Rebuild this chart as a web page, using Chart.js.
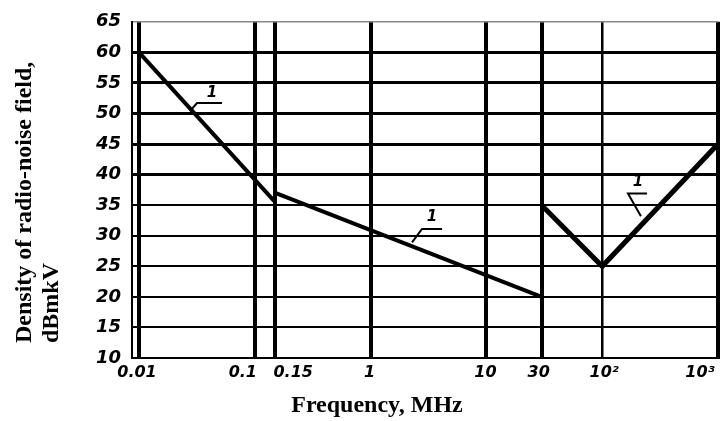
<!DOCTYPE html>
<html lang="en">
<head>
    <meta charset="UTF-8">
    <title>Density of radio-noise field</title>
    <script src="https://cdn.jsdelivr.net/npm/chart.js"></script>
    <style>
        html, body {
            margin: 0;
            padding: 0;
            background: #FFFFFF;
        }
        .chart-container {
            width: 724px;
            height: 421px;
        }
    </style>
</head>
<body>
    <div class="chart-container">
        <canvas id="noiseChart"></canvas>
    </div>

    <script>
        // tick values and labels
        const freqTicks = [0.01, 0.1, 0.15, 1, 10, 30, 100, 1000];
        const freqTickLabels = ['0.01', '0.1', '0.15', '1', '10', '30', '10²', '10³'];
        const levelTicks = [10, 15, 20, 25, 30, 35, 40, 45, 50, 55, 60, 65];

        // curve 1, three pieces (MHz, dBmkV)
        const lowFreq = [0.01, 0.15];
        const lowLevel = [60, 35.5];
        const midFreq = [0.15, 30];
        const midLevel = [37, 20];
        const highFreq = [30, 100, 1000];
        const highLevel = [35, 25, 45];

        function toPoints(xs, ys) {
            return xs.map((x, i) => ({ x: x, y: ys[i] }));
        }

        function curve(xs, ys, width) {
            return {
                data: toPoints(xs, ys),
                showLine: true,
                borderColor: '#000000',
                borderWidth: width,
                pointRadius: 0,
                borderCapStyle: 'butt',
                borderJoinStyle: 'miter'
            };
        }

        // draws the x tick labels, axis titles and the "1" callouts
        const drawingText = {
            id: 'drawingText',
            afterDraw(chart, args, opts) {
                const ctx = chart.ctx;
                const xs = chart.scales.x;
                const ys = chart.scales.y;

                ctx.save();
                ctx.fillStyle = '#000000';
                ctx.strokeStyle = '#000000';

                // x tick labels, nudged like on the drawing
                ctx.font = 'italic bold 16px "DejaVu Sans"';
                ctx.textAlign = 'center';
                ctx.textBaseline = 'middle';
                freqTicks.forEach((v, i) => {
                    const px = xs.getPixelForValue(v) + opts.tickShift[i];
                    ctx.fillText(freqTickLabels[i], px, chart.chartArea.bottom + 15);
                });

                // callouts
                ctx.lineWidth = 2;
                opts.callouts.forEach(c => {
                    ctx.beginPath();
                    c.leader.forEach((p, j) => {
                        const px = xs.getPixelForValue(p[0]);
                        const py = ys.getPixelForValue(p[1]);
                        if (j === 0) ctx.moveTo(px, py); else ctx.lineTo(px, py);
                    });
                    ctx.stroke();
                    ctx.font = 'italic bold 15px "DejaVu Sans"';
                    ctx.fillText('1', xs.getPixelForValue(c.text[0]), ys.getPixelForValue(c.text[1]));
                });

                // axis titles
                ctx.font = 'bold 24px "Liberation Serif"';
                ctx.fillText('Frequency, MHz', 377, 406);

                ctx.translate(25, 343);
                ctx.rotate(-Math.PI / 2);
                ctx.textAlign = 'left';
                ctx.font = 'bold 24px "Liberation Serif"';
                ctx.fillText('Density of radio-noise field,', 0, 0);
                ctx.fillText('dBmkV', 0, 27);
                ctx.restore();
            }
        };

        const ctx = document.getElementById('noiseChart').getContext('2d');
        const chart = new Chart(ctx, {
            type: 'scatter',
            data: {
                datasets: [
                    curve(lowFreq, lowLevel, 4),
                    curve(midFreq, midLevel, 4),
                    curve(highFreq, highLevel, 5)
                ]
            },
            options: {
                responsive: true,
                maintainAspectRatio: false,
                animation: false,
                layout: {
                    padding: { top: 19, right: 6, bottom: 63, left: 0 }
                },
                scales: {
                    x: {
                        type: 'logarithmic',
                        min: 0.0087,
                        max: 1000,
                        afterBuildTicks: scale => {
                            scale.ticks = freqTicks.map(v => ({ value: v }));
                        },
                        ticks: { display: false },
                        grid: {
                            drawTicks: false,
                            color: '#000000',
                            lineWidth: c => {
                                const v = c.tick ? c.tick.value : 0;
                                if (v === 100) return 2.5;
                                return 4;
                            }
                        },
                        border: { display: true, color: '#000000', width: 2 }
                    },
                    y: {
                        min: 10,
                        max: 65,
                        afterBuildTicks: scale => {
                            scale.ticks = levelTicks.map(v => ({ value: v }));
                        },
                        afterFit: scale => {
                            scale.width = 132;
                        },
                        ticks: {
                            color: '#000000',
                            padding: 11,
                            font: { family: 'DejaVu Sans', size: 18, style: 'italic', weight: 'bold' }
                        },
                        grid: {
                            drawTicks: false,
                            color: c => (c.tick && c.tick.value === 65 ? '#888888' : '#000000'),
                            lineWidth: c => {
                                const v = c.tick ? c.tick.value : 0;
                                if (v === 65) return 1.5;
                                if (v >= 40) return 3;
                                return 2;
                            }
                        },
                        border: { display: true, color: '#000000', width: 2 }
                    }
                },
                plugins: {
                    legend: { display: false },
                    tooltip: { enabled: false },
                    drawingText: {
                        tickShift: [-2, -12, 18, -1, -1, -3, 2, -18],
                        callouts: [
                            { text: [0.0427, 53.4], leader: [[0.0521, 51.7], [0.0317, 51.7], [0.0275, 50.4]] },
                            { text: [3.39, 33.1], leader: [[4.14, 31.1], [2.78, 31.1], [2.28, 28.9]] },
                            { text: [204, 38.8], leader: [[244, 36.9], [167, 36.9], [216, 33.2]] }
                        ]
                    }
                }
            },
            plugins: [drawingText]
        });
    </script>
</body>
</html>
